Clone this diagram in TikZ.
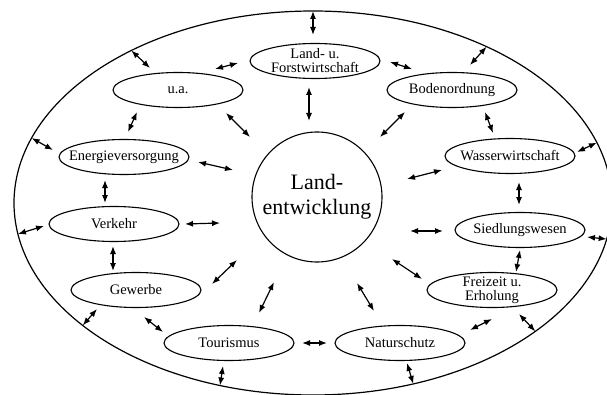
\documentclass[tikz,border=0pt]{standalone}
\usepackage{fontspec}
\setmainfont{Liberation Serif}
\usetikzlibrary{shapes.geometric}
\usetikzlibrary{arrows.meta}
\usetikzlibrary{calc}

\begin{document}
\begin{tikzpicture}[x=1pt, y=1pt,
    area/.style={ellipse, draw, line width=1.1pt, minimum width=130pt, minimum height=35pt,
        inner xsep=-30pt, inner ysep=-2pt, outer sep=0pt, align=center, font=\fontsize{14.5}{14}\selectfont},
    link/.style={{Latex[length=8pt,width=6pt]}-{Latex[length=8pt,width=6pt]}, line width=1.2pt}]

    \useasboundingbox (0,0) rectangle (607,394);
    \clip (0,0) rectangle (607,394);

    % Outer ring
    \node[ellipse, draw, line width=1.2pt, minimum width=598pt, minimum height=384pt, outer sep=0pt] (rim) at (313,191) {};

    % Centre
    \node[circle, draw, line width=1.1pt, minimum size=130pt, inner sep=0pt, align=center,
        font=\fontsize{22}{25}\selectfont] (ce) at (317,197) {Land-\\entwicklung};

    % Fields round the centre
    \node[area] (lf) at (315,333) {Land- u.\\Forstwirtschaft};
    \node[area] (bo) at (452,304) {Bodenordnung};
    \node[area] (ua) at (178,304) {u.a.};
    \node[area] (en) at (124,237) {Energieversorgung};
    \node[area] (wa) at (510,238) {Wasserwirtschaft};
    \node[area] (ve) at (114,170) {Verkehr};
    \node[area] (si) at (520,164) {Siedlungswesen};
    \node[area] (ge) at (136,104) {Gewerbe};
    \node[area] (fr) at (492,104) {Freizeit u.\\Erholung};
    \node[area] (to) at (229,51) {Tourismus};
    \node[area] (na) at (400,51) {Naturschutz};

    % Links to the outer ring
    \draw[link] (rim.90) -- ($(lf)+(-2,26)$);
    \draw[link] (rim.140) -- ($(ua)+(-28,22)$);
    \draw[link] (rim.42.5) -- ($(bo)+(18,25)$);
    \draw[link] (rim.167.3) -- ($(en)+(-71,7)$);
    \draw[link] (rim.12.1) -- ($(wa)+(67,4)$);
    \draw[link] (rim.-174.2) -- ($(ve)+(-70,-2)$);
    \draw[link] (rim.-7.7) -- ($(si)+(67,-7)$);
    \draw[link] (rim.-152.1) -- ($(ge)+(-39,-19)$);
    \draw[link] (rim.-30.4) -- ($(fr)+(27,-24)$);
    \draw[link] (rim.-117.8) -- ($(to)+(-6,-23)$);
    \draw[link] (rim.-61.9) -- ($(na)+(7,-20)$);

    % Links to the centre
    \draw[link] ($(lf)+(-6,-26)$) -- ($(ce)+(-8,76)$);
    \draw[link] ($(ua)+(48,-23)$) -- ($(ce)+(-67,60)$);
    \draw[link] ($(bo)+(-47,-22)$) -- ($(ce)+(63,60)$);
    \draw[link] ($(en)+(74,-5)$) -- ($(ce)+(-84,27)$);
    \draw[link] ($(wa)+(-68,-14)$) -- ($(ce)+(90,18)$);
    \draw[link] ($(ve)+(71,0)$) -- ($(ce)+(-97,-26)$);
    \draw[link] ($(si)+(-77,-1)$) -- ($(ce)+(93,-34)$);
    \draw[link] ($(ge)+(76,6)$) -- ($(ce)+(-80,-63)$);
    \draw[link] ($(fr)+(-70,11)$) -- ($(ce)+(75,-62)$);
    \draw[link] ($(to)+(30,30)$) -- ($(ce)+(-43,-85)$);
    \draw[link] ($(na)+(-26,32)$) -- ($(ce)+(40,-86)$);

    % Links between neighbours
    \draw[link] ($(ua)+(37,21)$) -- ($(lf)+(-77,-2)$);
    \draw[link] ($(lf)+(75,-1)$) -- ($(bo)+(-40,21)$);
    \draw[link] ($(bo)+(33,-22)$) -- ($(wa)+(-17,23)$);
    \draw[link] ($(wa)+(9,-26)$) -- ($(si)+(-1,25)$);
    \draw[link] ($(si)+(0,-20)$) -- ($(fr)+(24,18)$);
    \draw[link] ($(fr)+(0,-29)$) -- ($(na)+(70,13)$);
    \draw[link] ($(to)+(73,0)$) -- ($(na)+(-73,0)$);
    \draw[link] ($(ge)+(8,-27)$) -- ($(to)+(-66,11)$);
    \draw[link] ($(ve)+(-1,-22)$) -- ($(ge)+(-23,19)$);
    \draw[link] ($(en)+(-19,-23)$) -- ($(ve)+(-9,21)$);
    \draw[link] ($(ua)+(-41,-22)$) -- ($(en)+(4,25)$);

\end{tikzpicture}
\end{document}
